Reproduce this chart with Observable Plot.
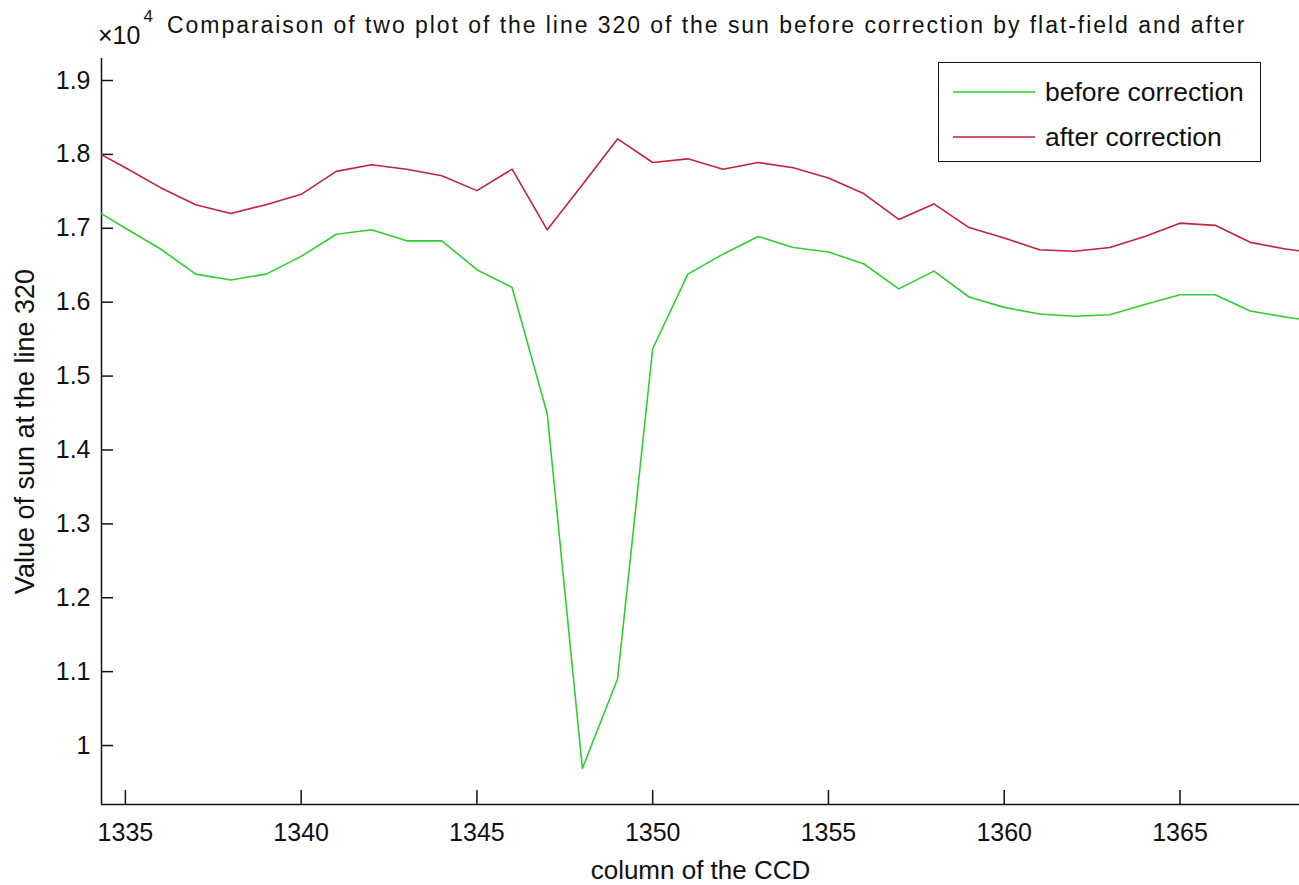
<!DOCTYPE html>
<html>
<head>
<meta charset="utf-8">
<script src="https://cdn.jsdelivr.net/npm/d3@7"></script>
<script src="https://cdn.jsdelivr.net/npm/@observablehq/plot@0.6"></script>
<style>
  html, body { margin: 0; padding: 0; background: #fff; }
  #wrap { position: relative; width: 1299px; height: 885px; overflow: hidden; font-family: "Liberation Sans", Arial, sans-serif; color: #111; }
  #wrap svg.plot { position: absolute; left: 0; top: 0; }
  .title { position: absolute; left: 167px; top: 12px; font-size: 23px; letter-spacing: 1.95px; white-space: nowrap; }
  .expo { position: absolute; left: 98px; top: 20px; font-size: 25px; white-space: nowrap; }
  .expo sup { font-size: 17px; position: relative; top: -13px; margin-left: 3px; }
  .legend { position: absolute; left: 938px; top: 62px; width: 321px; height: 98px; border: 1.5px solid #111; background: #fff; }
  .legend .row { position: absolute; left: 14px; height: 30px; display: flex; align-items: center; }
  .legend .row span { font-size: 26.5px; margin-left: 10px; }
</style>
</head>
<body>
<div id="wrap">
  <div class="expo">×10<sup>4</sup></div>
  <div class="title">Comparaison of two plot of the line 320 of the sun before correction by flat-field and after</div>
</div>
<script>
// CCD columns sampled along line 320
const columns = [1334, 1335, 1336, 1337, 1338, 1339, 1340, 1341, 1342, 1343, 1344, 1345,
  1346, 1347, 1348, 1349, 1350, 1351, 1352, 1353, 1354, 1355, 1356, 1357,
  1358, 1359, 1360, 1361, 1362, 1363, 1364, 1365, 1366, 1367, 1368, 1369];

// Sun intensity before flat-field correction
const beforeCorrection = [17290, 17000, 16720, 16380, 16300, 16380, 16620, 16920, 16980, 16830, 16830, 16440,
  16200, 14490, 9690, 10900, 15370, 16380, 16650, 16890, 16740, 16680, 16520, 16180,
  16420, 16070, 15930, 15840, 15810, 15830, 15970, 16100, 16100, 15880, 15800, 15730];

// Sun intensity after flat-field correction
const afterCorrection = [18080, 17820, 17550, 17320, 17200, 17320, 17460, 17770, 17860, 17800, 17710, 17510,
  17800, 16980, 17590, 18210, 17890, 17940, 17800, 17890, 17820, 17680, 17470, 17120,
  17330, 17010, 16870, 16710, 16690, 16740, 16890, 17070, 17040, 16810, 16720, 16660];

const seriesNames = ["before correction", "after correction"];
const seriesColors = ["#2fcf2f", "#c0233a"];

const yTicks = [10000, 11000, 12000, 13000, 14000, 15000, 16000, 17000, 18000, 19000];
const xTicks = [1335, 1340, 1345, 1350, 1355, 1360, 1365];

const rows = [];
columns.forEach((c, i) => {
  rows.push({column: c, value: beforeCorrection[i], series: seriesNames[0]});
  rows.push({column: c, value: afterCorrection[i], series: seriesNames[1]});
});

const xDomain = [1334.32, 1368.4];
const yDomain = [9202, 19298];

const chart = Plot.plot({
  width: 1299,
  height: 885,
  marginLeft: 101,
  marginRight: 0,
  marginTop: 58,
  marginBottom: 81,
  style: {fontFamily: "'Liberation Sans', Arial, sans-serif", fontSize: "25px", color: "#111", background: "transparent"},
  x: {domain: xDomain},
  y: {domain: yDomain},
  color: {domain: seriesNames, range: seriesColors},
  marks: [
    Plot.axisX({ticks: xTicks, tickSize: -14, tickPadding: 33, strokeWidth: 1.5,
      tickFormat: d => String(d), label: null, fontSize: 25}),
    Plot.axisX({ticks: [], label: "column of the CCD", labelAnchor: "center", labelArrow: "none",
      labelOffset: 74, fontSize: 26}),
    Plot.axisY({ticks: yTicks, tickSize: -12, tickPadding: 23, strokeWidth: 1.5,
      tickFormat: d => String(d / 1e4), label: null, fontSize: 25}),
    Plot.axisY({ticks: [], label: "Value of sun at the line 320", labelAnchor: "center", labelArrow: "none",
      labelOffset: 87, fontSize: 27}),
    Plot.ruleX([xDomain[0]], {stroke: "#111", strokeWidth: 1.5}),
    Plot.ruleY([yDomain[0]], {stroke: "#111", strokeWidth: 1.5}),
    Plot.line(rows, {x: "column", y: "value", z: "series", stroke: "series", strokeWidth: 1.6, clip: true})
  ]
});
chart.classList.add("plot");
const wrap = document.getElementById("wrap");
wrap.insertBefore(chart, wrap.firstChild);

// legend box
const legend = document.createElement("div");
legend.className = "legend";
seriesNames.forEach((name, i) => {
  const row = document.createElement("div");
  row.className = "row";
  row.style.top = (14 + i * 45) + "px";
  row.innerHTML = `<svg width="82" height="4"><line x1="0" x2="82" y1="2" y2="2" stroke="${seriesColors[i]}" stroke-width="1.6"/></svg><span>${name}</span>`;
  legend.appendChild(row);
});
wrap.appendChild(legend);
</script>
</body>
</html>
